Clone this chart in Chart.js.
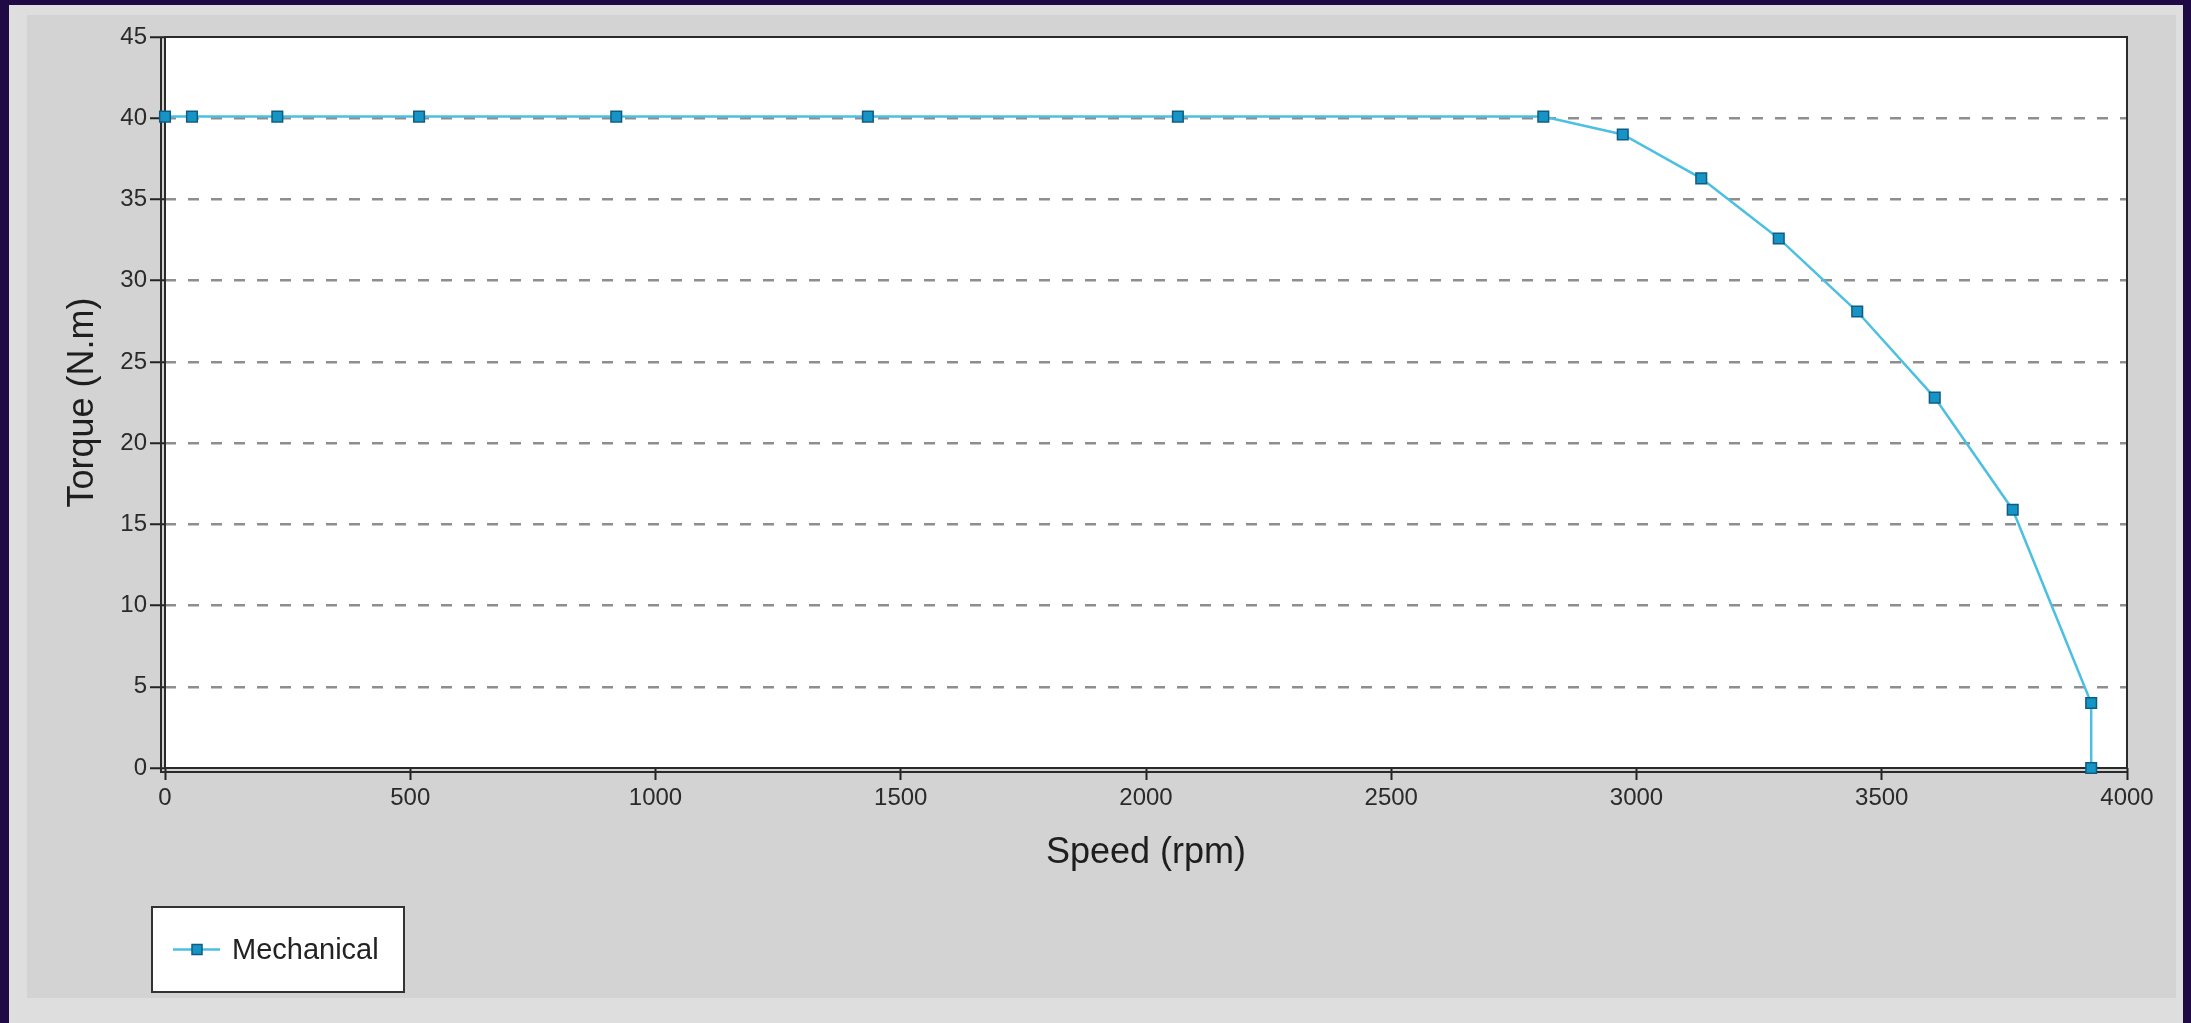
<!DOCTYPE html>
<html>
<head>
<meta charset="utf-8">
<title>Torque vs Speed</title>
<script src="https://cdn.jsdelivr.net/npm/chart.js@4/dist/chart.umd.min.js"></script>
<style>
  html, body { margin: 0; padding: 0; background: #1f0a45; width: 2191px; height: 1023px; overflow: hidden; }
  #frame { position: absolute; left: 9px; top: 5px; width: 2174px; height: 1018px; background: #dedede; }
  #panel { position: absolute; left: 27px; top: 15px; width: 2149px; height: 983px; background: #d3d3d3; }
  #chart { position: absolute; left: 0; top: 0; }
</style>
</head>
<body>
<div id="frame"></div>
<div id="panel"></div>
<canvas id="chart" width="2191" height="1023"></canvas>
<script>
// Motor torque curve: constant torque region, then field-weakening drop-off
const seriesName = 'Mechanical';
const speedRpm = [0, 55, 229, 518, 920, 1433, 2065, 2810, 2972, 3132, 3290, 3450, 3608, 3767, 3927, 3927];
const torqueNm = [40.1, 40.1, 40.1, 40.1, 40.1, 40.1, 40.1, 40.1, 39.0, 36.3, 32.6, 28.1, 22.8, 15.9, 4.0, 0];
const xTicks = [0, 500, 1000, 1500, 2000, 2500, 3000, 3500, 4000];
const yTicks = [0, 5, 10, 15, 20, 25, 30, 35, 40, 45];
const xTitle = 'Speed (rpm)';
const yTitle = 'Torque (N.m)';

const LINE_COLOR = '#4cc0e2';
const MARK_FILL = '#1694c6';
const MARK_EDGE = '#0f5c82';
const FONT = '"Liberation Sans", Arial, sans-serif';

const points = speedRpm.map((s, i) => ({ x: s, y: torqueNm[i] }));

// White plot background, drawn before the grid
const plotBgPlugin = {
  id: 'plotBg',
  beforeDraw(chart) {
    const { ctx, chartArea: a } = chart;
    ctx.save();
    ctx.fillStyle = '#ffffff';
    ctx.fillRect(a.left, a.top, a.right - a.left, a.bottom - a.top);
    ctx.restore();
  }
};

// Frame around the plot area with the doubled left/bottom axis lines
const framePlugin = {
  id: 'frame',
  beforeDatasetsDraw(chart) {
    const { ctx, chartArea: a } = chart;
    ctx.save();
    ctx.strokeStyle = '#2a2a2a';
    ctx.lineWidth = 2;
    ctx.strokeRect(a.left, a.top, a.right - a.left, a.bottom - a.top);
    ctx.beginPath();
    ctx.moveTo(a.left - 4, a.top);
    ctx.lineTo(a.left - 4, a.bottom + 4);
    ctx.lineTo(a.right, a.bottom + 4);
    ctx.stroke();
    ctx.restore();
  }
};

// Boxed legend under the axis title
const legendPlugin = {
  id: 'boxLegend',
  afterDraw(chart) {
    const { ctx, chartArea: a } = chart;
    const left = a.left - 13, top = 907, w = 252, h = 85;
    const cy = top + h / 2;
    ctx.save();
    ctx.fillStyle = '#ffffff';
    ctx.fillRect(left, top, w, h);
    ctx.strokeStyle = '#333333';
    ctx.lineWidth = 2;
    ctx.strokeRect(left, top, w, h);
    ctx.strokeStyle = LINE_COLOR;
    ctx.lineWidth = 2.5;
    ctx.beginPath();
    ctx.moveTo(left + 21, cy);
    ctx.lineTo(left + 68, cy);
    ctx.stroke();
    ctx.fillStyle = MARK_FILL;
    ctx.strokeStyle = MARK_EDGE;
    ctx.lineWidth = 1.5;
    ctx.fillRect(left + 40, cy - 5, 10, 10);
    ctx.strokeRect(left + 40, cy - 5, 10, 10);
    ctx.fillStyle = '#222222';
    ctx.font = '29px ' + FONT;
    ctx.textAlign = 'left';
    ctx.textBaseline = 'middle';
    ctx.fillText(seriesName, left + 80, cy + 1);
    ctx.restore();
  }
};

new Chart(document.getElementById('chart'), {
  type: 'line',
  data: {
    datasets: [{
      label: seriesName,
      data: points,
      borderColor: LINE_COLOR,
      borderWidth: 2.5,
      tension: 0,
      pointStyle: 'rect',
      pointRadius: 7.5,
      pointBackgroundColor: MARK_FILL,
      pointBorderColor: MARK_EDGE,
      pointBorderWidth: 1.5,
      clip: false
    }]
  },
  options: {
    responsive: false,
    animation: false,
    events: [],
    layout: { padding: { left: 0, right: 64, top: 37, bottom: 135 } },
    plugins: { legend: { display: false }, tooltip: { enabled: false } },
    scales: {
      x: {
        type: 'linear',
        min: 0,
        max: 4000,
        afterFit(scale) { scale.height = 120; },
        afterBuildTicks(scale) { scale.ticks = xTicks.map(v => ({ value: v })); },
        border: { display: false },
        grid: {
          drawOnChartArea: false,
          drawTicks: true,
          tickLength: 12,
          tickColor: '#222222',
          tickWidth: 2
        },
        ticks: {
          color: '#2a2a2a',
          padding: 4,
          maxRotation: 0,
          font: { family: FONT, size: 24 },
          callback: (v) => String(v)
        },
        title: {
          display: true,
          text: xTitle,
          color: '#1e1e1e',
          font: { family: FONT, size: 36 },
          padding: { top: 0, bottom: 13 }
        }
      },
      y: {
        type: 'linear',
        min: 0,
        max: 45,
        afterFit(scale) { scale.width = 165; },
        afterBuildTicks(scale) { scale.ticks = yTicks.map(v => ({ value: v })); },
        border: { display: false, dash: [11, 12] },
        grid: {
          drawOnChartArea: true,
          drawTicks: true,
          color: (c) => (c.tick && (c.tick.value === 0 || c.tick.value === 45)) ? 'rgba(0,0,0,0)' : '#8e8e8e',
          lineWidth: 2.5,
          borderDash: [11, 12],
          tickLength: 15,
          tickColor: '#222222',
          tickWidth: 2,
          tickBorderDash: []
        },
        ticks: {
          color: '#2a2a2a',
          padding: 3,
          font: { family: FONT, size: 24 },
          callback: (v) => String(v)
        },
        title: {
          display: true,
          text: yTitle,
          color: '#1e1e1e',
          font: { family: FONT, size: 36 },
          padding: { top: 61, bottom: 0 }
        }
      }
    }
  },
  plugins: [plotBgPlugin, framePlugin, legendPlugin]
});
</script>
</body>
</html>
